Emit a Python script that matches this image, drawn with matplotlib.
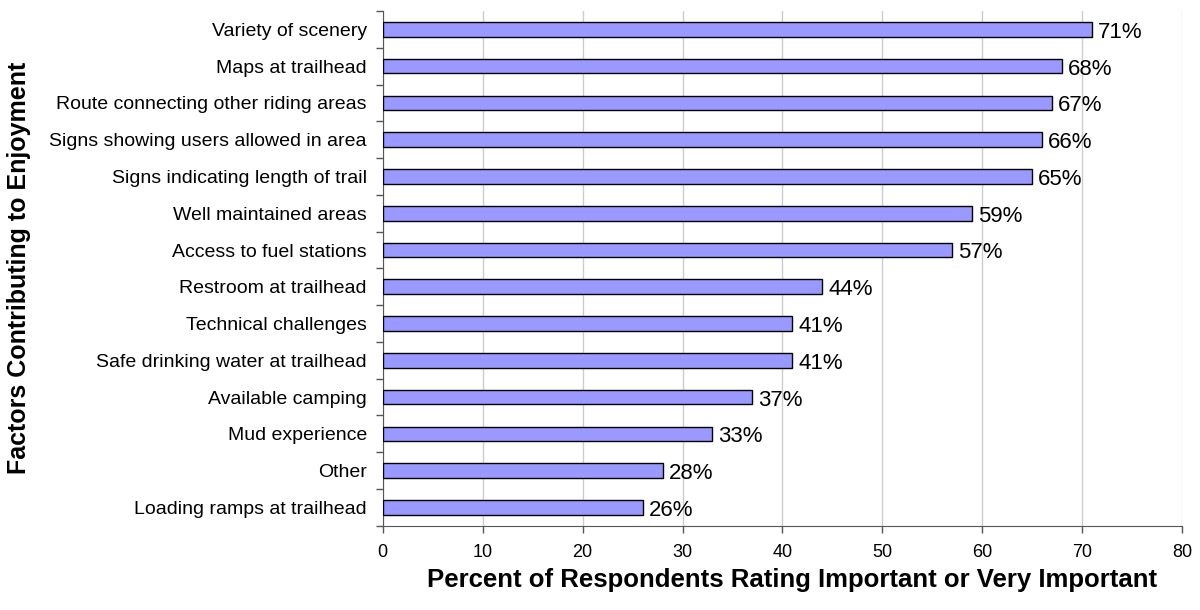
import numpy as np
import matplotlib
matplotlib.use('Agg')
import matplotlib.pyplot as plt

#### DATA

categories = ['Variety of scenery', 'Maps at trailhead', 'Route connecting other riding areas',
              'Signs showing users allowed in area', 'Signs indicating length of trail',
              'Well maintained areas', 'Access to fuel stations', 'Restroom at trailhead',
              'Technical challenges', 'Safe drinking water at trailhead', 'Available camping',
              'Mud experience', 'Other', 'Loading ramps at trailhead']
values = [71, 68, 67, 66, 65, 59, 57, 44, 41, 41, 37, 33, 28, 26]
xticks = [0, 10, 20, 30, 40, 50, 60, 70, 80]

#### PLOT

plt.rcParams['font.family'] = ['Liberation Sans', 'DejaVu Sans']

fig = plt.figure(figsize=(12, 6.1), dpi=100)
ax = fig.add_axes([0.319, 0.138, 0.666, 0.844])

y = np.arange(len(categories))[::-1]
ax.barh(y, values, height=0.4, color='#9999FF', edgecolor='black', linewidth=1.0, zorder=3)

for yi, v in zip(y, values):
    ax.text(v + 0.6, yi - 0.08, '%d%%' % v, va='center', ha='left', fontsize=16, zorder=4)

ax.set_ylim(-0.5, len(categories) - 0.5)
ax.set_xlim(0, 80)
ax.set_xticks(xticks)
ax.set_xticklabels([str(t) for t in xticks], fontsize=13)
ax.set_yticks(y)
ax.set_yticklabels(categories, fontsize=14)
ax.set_yticks(np.arange(-0.5, len(categories), 1), minor=True)
ax.tick_params(axis='y', which='major', length=0, pad=11.5)
ax.tick_params(axis='y', which='minor', length=5, width=1, color='#555555')
ax.tick_params(axis='x', which='major', length=5, width=1, color='#555555', pad=8)

ax.grid(axis='x', color='#cccccc', linewidth=1, zorder=0)
for s in ['top', 'right']:
    ax.spines[s].set_visible(False)
for s in ['left', 'bottom']:
    ax.spines[s].set_color('#555555')

fig.text(0.66, 1 - 580 / 610, 'Percent of Respondents Rating Important or Very Important',
         fontsize=18.5, fontweight='bold', va='center', ha='center')
fig.text(19 / 1200, 1 - 268 / 610, 'Factors Contributing to Enjoyment', rotation=90,
         fontsize=18, fontweight='bold', va='center', ha='center')

plt.savefig('out.png', dpi=100)
